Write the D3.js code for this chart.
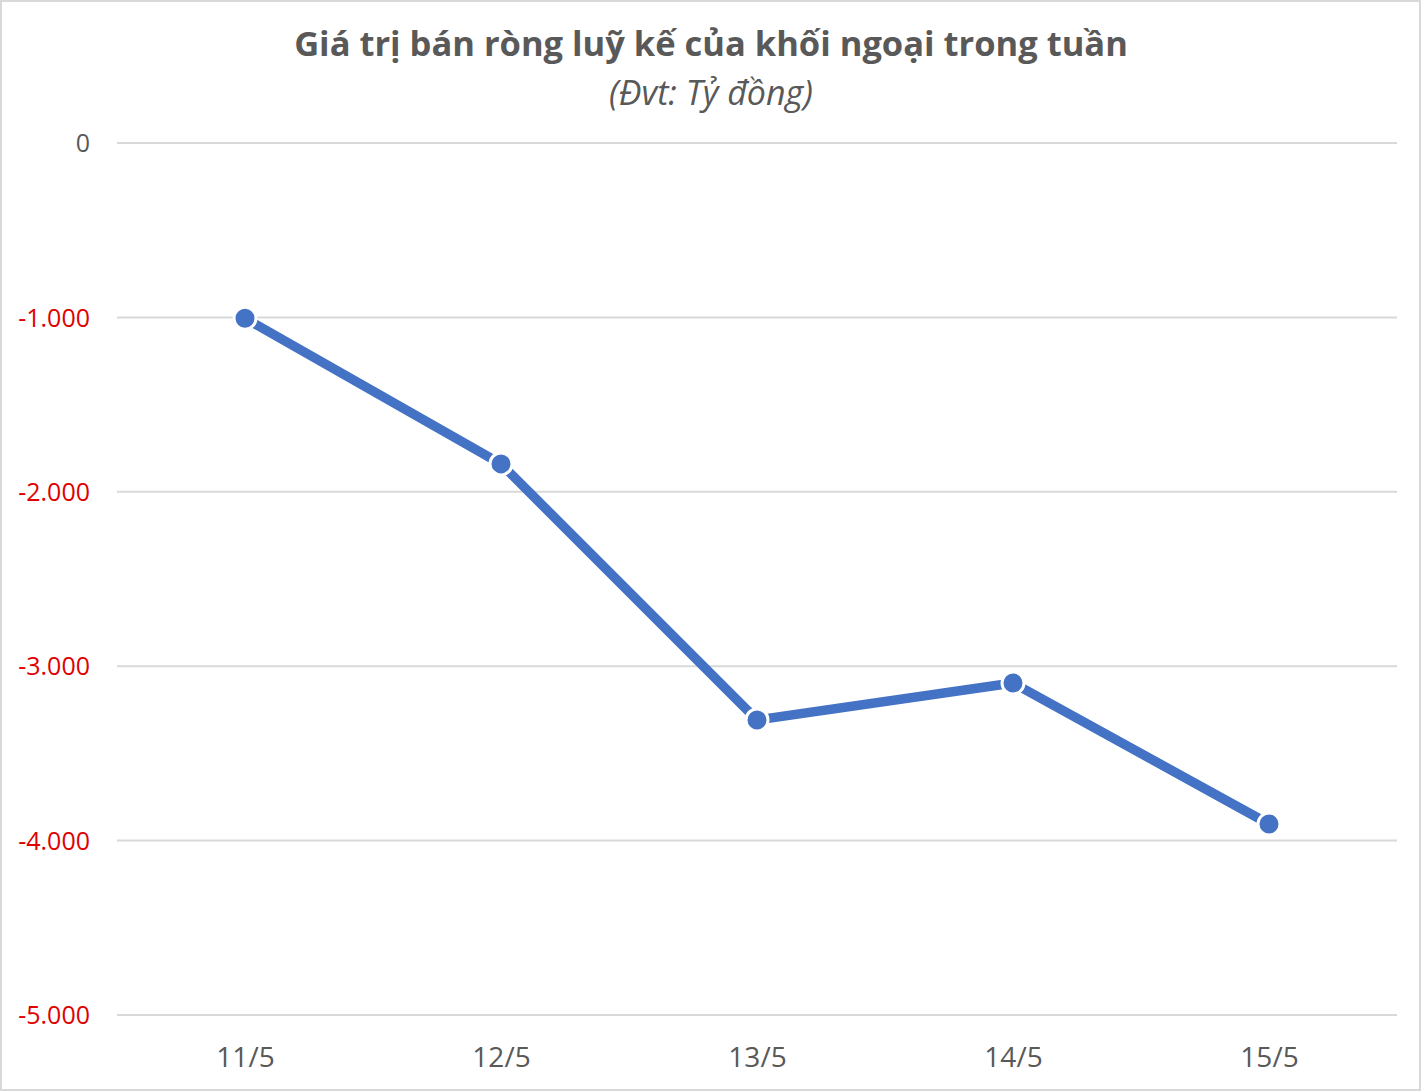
<!DOCTYPE html>
<html>
<head>
<meta charset="utf-8">
<script src="https://d3js.org/d3.v7.min.js"></script>
<style>
  html, body { margin: 0; padding: 0; background: #fff; }
  svg { display: block; }
</style>
</head>
<body>
<div id="chart"></div>
<script>
// chart data
const days = ["11/5", "12/5", "13/5", "14/5", "15/5"];
const netSell = [-1005, -1840, -3308, -3096, -3905];
const yTicks = [0, -1000, -2000, -3000, -4000, -5000];

const width = 1422, height = 1092;
const margin = { top: 143, right: 25, bottom: 77, left: 117 };

const svg = d3.select("#chart")
    .append("svg")
    .attr("width", width)
    .attr("height", height);

// outer border of the chart area
svg.append("rect")
    .attr("x", 1).attr("y", 1)
    .attr("width", width - 3).attr("height", height - 3)
    .attr("fill", "#fff")
    .attr("stroke", "#d9d9d9")
    .attr("stroke-width", 2);

const x = d3.scalePoint()
    .domain(days)
    .range([margin.left, width - margin.right])
    .padding(0.5);

const y = d3.scaleLinear()
    .domain([0, -5000])
    .range([margin.top, height - margin.bottom]);

// title
svg.append("text")
    .attr("x", 711).attr("y", 56)
    .attr("text-anchor", "middle")
    .style("font-family", "'Open Sans', sans-serif")
    .style("font-weight", "bold")
    .style("font-size", "34.5px")
    .style("fill", "#595959")
    .text("Giá trị bán ròng luỹ kế của khối ngoại trong tuần");

svg.append("text")
    .attr("x", 711).attr("y", 105)
    .attr("text-anchor", "middle")
    .style("font-family", "'Open Sans', sans-serif")
    .style("font-style", "italic")
    .style("font-size", "34px")
    .style("fill", "#595959")
    .text("(Đvt: Tỷ đồng)");

// gridlines
svg.append("g")
    .selectAll("line")
    .data(yTicks)
    .enter()
    .append("line")
    .attr("x1", margin.left)
    .attr("x2", width - margin.right)
    .attr("y1", d => y(d))
    .attr("y2", d => y(d))
    .style("stroke", "#d9d9d9")
    .style("stroke-width", 2);

// y axis labels
const fmt = d3.formatLocale({ decimal: ",", thousands: ".", grouping: [3], currency: ["", ""], minus: "-" }).format(",");

const yAxis = d3.axisLeft(y)
    .tickValues(yTicks)
    .tickSize(0)
    .tickPadding(0)
    .tickFormat(fmt);

const yg = svg.append("g")
    .attr("transform", `translate(${margin.left - 27},0)`)
    .call(yAxis);
yg.select(".domain").remove();
yg.selectAll("text")
    .attr("dy", "0.35em")
    .style("font-family", "'Open Sans', sans-serif")
    .style("font-size", "25px")
    .style("fill", d => d < 0 ? "#e00000" : "#595959");

// x axis labels
const xAxis = d3.axisBottom(x)
    .tickSize(0)
    .tickPadding(0);

const xg = svg.append("g")
    .attr("transform", `translate(0,${y(-5000) + 32})`)
    .call(xAxis);
xg.select(".domain").remove();
xg.selectAll("text")
    .attr("dy", "0.71em")
    .style("font-family", "'Open Sans', sans-serif")
    .style("font-size", "28px")
    .style("fill", "#595959");

// line
const line = d3.line()
    .x((d, i) => x(days[i]))
    .y(d => y(d));

svg.append("path")
    .datum(netSell)
    .attr("d", line)
    .attr("fill", "none")
    .style("stroke", "#4472c4")
    .style("stroke-width", 9.5)
    .style("stroke-linejoin", "round");

svg.selectAll("circle.pt")
    .data(netSell)
    .enter()
    .append("circle")
    .attr("class", "pt")
    .attr("cx", (d, i) => x(days[i]))
    .attr("cy", d => y(d))
    .attr("r", 11)
    .style("fill", "#4472c4")
    .style("stroke", "#fff")
    .style("stroke-width", 3);
</script>
</body>
</html>
